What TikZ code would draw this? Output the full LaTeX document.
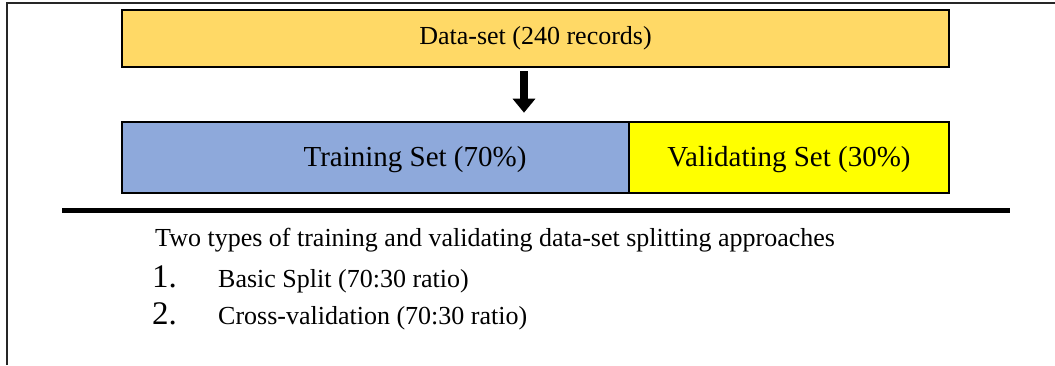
\documentclass[tikz,border=0pt]{standalone}
\usepackage{fontspec}
\setmainfont{Liberation Serif}
\usetikzlibrary{arrows.meta,calc}
\definecolor{datafill}{HTML}{FFD966}
\definecolor{trainfill}{HTML}{8EA9DB}
\definecolor{validfill}{HTML}{FFFF00}
\tikzset{
  boxnode/.style={draw=black, line width=2.6bp, rectangle, inner sep=0pt, anchor=center},
  bigarrow/.style={line width=8bp, -{Triangle[width=22bp,length=14bp]}},
  frameline/.style={draw=black!85, line width=2bp},
  bodytext/.style={anchor=base west, inner sep=0pt, font=\fontsize{26bp}{30bp}\selectfont},
  numtext/.style={anchor=base west, inner sep=0pt, font=\fontsize{33bp}{38bp}\selectfont}
}
\begin{document}
\begin{tikzpicture}[x=1bp,y=1bp]
\useasboundingbox (0,0) rectangle (1055,365);
% frame
\coordinate (ftl) at (7,361.5);
\coordinate (ftr) at (1055,361.5);
\coordinate (fbl) at (7,0);
\draw[frameline] (fbl) -- (ftl) -- (ftr);
% data-set box
\node[boxnode, fill=datafill, minimum width=827bp, minimum height=57bp,
      font=\fontsize{26bp}{30bp}\selectfont] (data) at (535.5,326.5) {Data-set (240 records)};
% training and validating boxes
\node[boxnode, fill=trainfill, minimum width=507bp, minimum height=71bp] (train) at (375.5,207.5) {};
\node[inner sep=0pt, font=\fontsize{29bp}{33bp}\selectfont] (traintext) at ($(train.center)+(39.5,-2)$) {Training Set (70\%)};
\node[boxnode, fill=validfill, minimum width=320bp, minimum height=71bp] (valid) at (789,207.5) {};
\node[inner sep=0pt, font=\fontsize{29bp}{33bp}\selectfont] (validtext) at ($(valid.center)+(0,-2)$) {Validating Set (30\%)};
% arrow
\coordinate (astart) at ($(data.south)+(-11.5,-3)$);
\coordinate (aend) at ($(data.south -| astart)!1!(train.north -| astart)+(0,8)$);
\draw[bigarrow] (astart) -- (aend);
% separator line
\coordinate (sl) at (62,154.5);
\coordinate (sr) at (1010,154.5);
\draw[line width=5bp] (sl) -- (sr);
% text
\node[bodytext] (intro) at (155,119) {Two types of training and validating data-set splitting approaches};
\node[numtext] (n1) at (152,78) {1.};
\node[bodytext] (i1) at (218,78) {Basic Split (70:30 ratio)};
\node[numtext] (n2) at (152,41) {2.};
\node[bodytext] (i2) at (218,41) {Cross-validation (70:30 ratio)};
\end{tikzpicture}
\end{document}
